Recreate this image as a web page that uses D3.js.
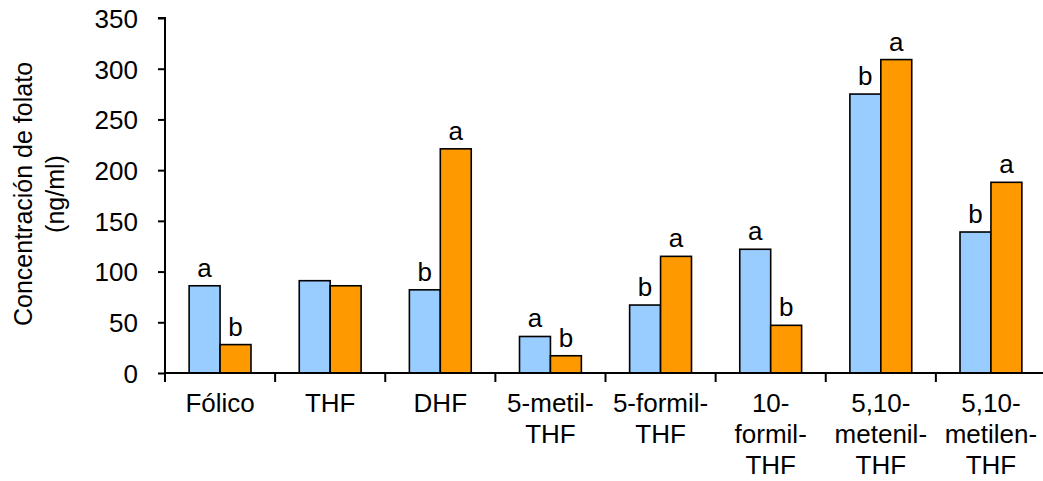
<!DOCTYPE html>
<html>
<head>
<meta charset="utf-8">
<script src="https://cdn.jsdelivr.net/npm/d3@7"></script>
<style>
  body { margin: 0; background: #fff; }
  text { font-family: "Liberation Sans", Arial, sans-serif; fill: #000; }
</style>
</head>
<body>
<div id="chart"></div>
<script>
var categories = [
	['Fólico'],
	['THF'],
	['DHF'],
	['5-metil-', 'THF'],
	['5-formil-', 'THF'],
	['10-', 'formil-', 'THF'],
	['5,10-', 'metenil-', 'THF'],
	['5,10-', 'metilen-', 'THF']
];
var seriesA = [86, 91, 82, 36, 67, 122, 275, 139];
var seriesB = [28, 86, 221, 17, 115, 47, 309, 188];
var lettersA = ['a', '', 'b', 'a', 'b', 'a', 'b', 'b'];
var lettersB = ['b', '', 'a', 'b', 'a', 'b', 'a', 'a'];
var yTicks = [0, 50, 100, 150, 200, 250, 300, 350];

var width = 1043, height = 481;
var svg = d3.select('#chart').append('svg').attr('width', width).attr('height', height);

var names = categories.map(function(c) { return c.join(''); });

var x0 = d3.scaleBand()
	.domain(names)
	.range([165, 1046])
	.padding(0);

var x1 = d3.scaleBand()
	.domain(['A', 'B'])
	.range([0, x0.bandwidth()])
	.paddingInner(0)
	.paddingOuter(0.78);

var yScale = d3.scaleLinear()
	.domain([0, 350])
	.range([373, 18]);

var rows = names.map(function(n, i) {
	return [
		{ cat: n, key: 'A', value: seriesA[i], letter: lettersA[i], color: '#99CCFF' },
		{ cat: n, key: 'B', value: seriesB[i], letter: lettersB[i], color: '#FF9900' }
	];
});

// bars
var groups = svg.append('g').selectAll('g')
	.data(rows)
	.enter()
	.append('g')
	.attr('transform', function(d) { return 'translate(' + x0(d[0].cat) + ',0)'; });

groups.selectAll('rect')
	.data(function(d) { return d; })
	.enter()
	.append('rect')
	.attr('x', function(d) { return x1(d.key); })
	.attr('y', function(d) { return yScale(d.value); })
	.attr('width', x1.bandwidth())
	.attr('height', function(d) { return yScale(0) - yScale(d.value); })
	.attr('fill', function(d) { return d.color; })
	.attr('stroke', '#000')
	.attr('stroke-width', 1.6);

groups.selectAll('text.letter')
	.data(function(d) { return d; })
	.enter()
	.append('text')
	.attr('class', 'letter')
	.attr('x', function(d) { return x1(d.key) + x1.bandwidth() / 2; })
	.attr('y', function(d) { return yScale(d.value) - 9; })
	.attr('text-anchor', 'middle')
	.style('font-size', '26px')
	.text(function(d) { return d.letter; });

// y axis
var yAxis = d3.axisLeft(yScale)
	.tickValues(yTicks)
	.tickSize(7)
	.tickPadding(20);

var yG = svg.append('g')
	.attr('transform', 'translate(165,0)')
	.call(yAxis);
yG.select('.domain').attr('stroke', '#000').attr('stroke-width', 2).attr('d', 'M-7,18H0V373');
yG.selectAll('.tick line').attr('stroke', '#000').attr('stroke-width', 2);
yG.selectAll('.tick text')
	.style('font-size', '26px')
	.style('font-family', '"Liberation Sans", Arial, sans-serif')
	.attr('dy', '0.36em');

// x axis: ticks on category boundaries
var xAxis = d3.axisBottom(x0).tickSize(0).tickFormat('');
var xG = svg.append('g')
	.attr('transform', 'translate(0,373)')
	.call(xAxis);
xG.select('.domain').attr('stroke', '#000').attr('stroke-width', 2).attr('d', 'M165,0H1046');
xG.selectAll('.tick').remove();

var bounds = names.map(function(n) { return x0(n); }).concat([x0.range()[1]]);
xG.selectAll('line.sep')
	.data(bounds)
	.enter()
	.append('line')
	.attr('class', 'sep')
	.attr('x1', function(d) { return d; })
	.attr('x2', function(d) { return d; })
	.attr('y1', 0)
	.attr('y2', 9)
	.attr('stroke', '#000')
	.attr('stroke-width', 2);

var labels = svg.append('g').selectAll('text')
	.data(categories)
	.enter()
	.append('text')
	.attr('text-anchor', 'middle')
	.style('font-size', '26px')
	.attr('transform', function(d, i) {
		return 'translate(' + (x0(names[i]) + x0.bandwidth() / 2) + ',412)';
	});

labels.selectAll('tspan')
	.data(function(d) { return d; })
	.enter()
	.append('tspan')
	.attr('x', 0)
	.attr('y', function(d, i) { return i * 31; })
	.text(function(d) { return d; });

// y title
var title = svg.append('text')
	.attr('transform', 'translate(32,194) rotate(-90)')
	.attr('text-anchor', 'middle')
	.style('font-size', '25px');
title.append('tspan').attr('x', 0).attr('y', 0).text('Concentración de folato');
title.append('tspan').attr('x', 0).attr('y', 32).text('(ng/ml)');
</script>
</body>
</html>
